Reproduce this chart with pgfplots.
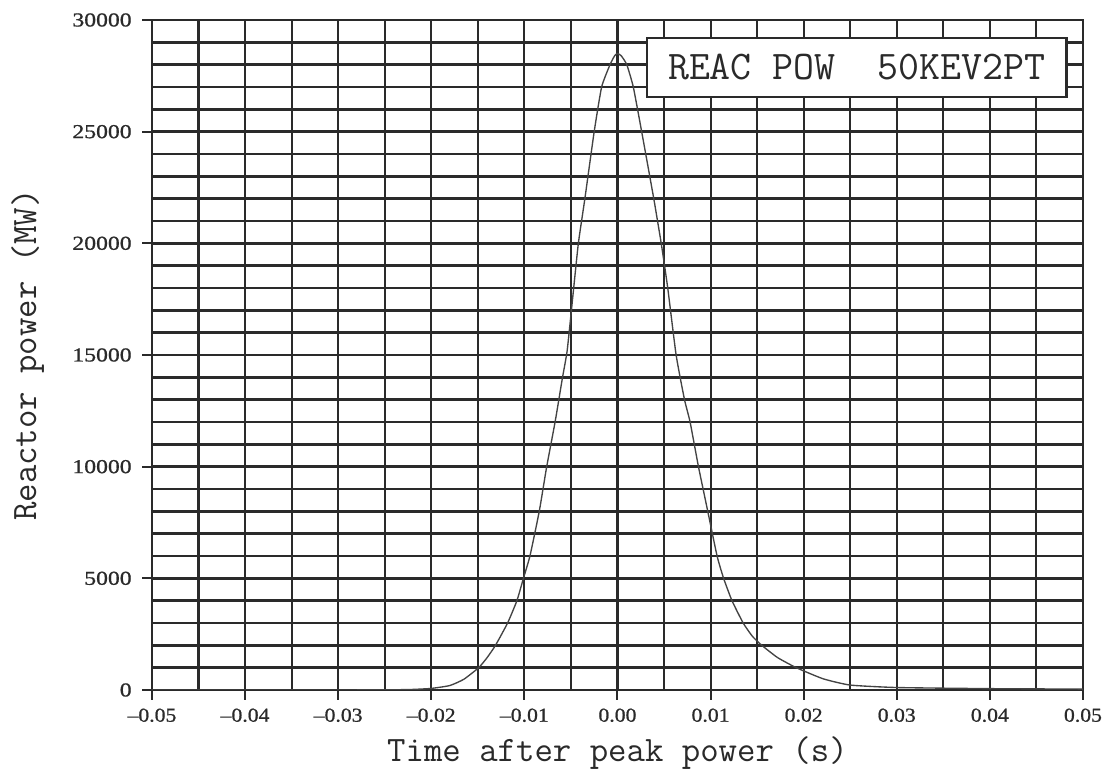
\documentclass[border=0pt]{standalone}
\usepackage{pgfplots}
\pgfplotsset{compat=1.18}
\usepackage{fontspec}
\setmainfont{Liberation Serif}
\definecolor{ink}{HTML}{2A2A2A}
\definecolor{pen}{HTML}{444444}
\newcommand{\typeface}{\ttfamily\addfontfeatures{FakeBold=1.2}}
\newcommand{\tickface}{\fontsize{8}{9}\selectfont\addfontfeatures{FakeBold=0.8}}

% Reactor power transient around the peak
\pgfplotstableread{
t        P
-0.0500  0
-0.0400  0
-0.0300  0
-0.0240  10
-0.0220  25
-0.0200  70
-0.0180  200
-0.0165  480
-0.0149  1000
-0.0140  1450
-0.0131  2000
-0.0118  3000
-0.0108  4000
-0.0101  5000
-0.0094  6000
-0.0084  8000
-0.0076  10000
-0.0067  12000
-0.0059  14000
-0.0054  15200
-0.0048  17600
-0.0042  20000
-0.0035  22000
-0.0025  25000
-0.0017  27000
-0.0008  28000
-0.0003  28400
 0.0000  28500
 0.0004  28400
 0.0010  28000
 0.0017  27000
 0.0026  25000
 0.0039  22000
 0.0047  20000
 0.0054  18000
 0.0063  15000
 0.0072  13000
 0.0078  12000
 0.0087  10000
 0.0097  8000
 0.0107  6000
 0.0114  5000
 0.0123  4000
 0.0135  3000
 0.0145  2400
 0.0155  2000
 0.0172  1450
 0.0192  1000
 0.0221  500
 0.0250  220
 0.0300  110
 0.0400  60
 0.0500  40
}\powertable

\begin{document}
\begin{tikzpicture}
\path[use as bounding box] (-61.6pt,-32.8pt) rectangle (392pt,279.7pt);
\begin{axis}[
  scale only axis,
  width=377.4pt, height=271.6pt,
  xmin=-0.05, xmax=0.05, ymin=0, ymax=30000,
  scaled x ticks=false, scaled y ticks=false,
  xtick={-0.05,-0.04,-0.03,-0.02,-0.01,0,0.01,0.02,0.03,0.04,0.05},
  xticklabels={--0.05,--0.04,--0.03,--0.02,--0.01,0.00,0.01,0.02,0.03,0.04,0.05},
  ytick={0,5000,10000,15000,20000,25000,30000},
  yticklabels={0,5000,10000,15000,20000,25000,30000},
  extra x ticks={-0.05,-0.045,-0.04,-0.035,-0.03,-0.025,-0.02,-0.015,-0.01,-0.005,0,
    0.005,0.01,0.015,0.02,0.025,0.03,0.035,0.04,0.045,0.05},
  extra x tick labels={},
  extra x tick style={grid=major, major tick length=0pt,
    major grid style={ink, line width=0.85pt}},
  extra y ticks={0,1000,2000,3000,4000,5000,6000,7000,8000,9000,10000,
    11000,12000,13000,14000,15000,16000,17000,18000,19000,20000,
    21000,22000,23000,24000,25000,26000,27000,28000,29000,30000},
  extra y tick labels={},
  extra y tick style={grid=major, major tick length=0pt,
    major grid style={ink, line width=1.15pt}},
  axis line style={ink, line width=0.9pt},
  tick pos=left,
  tick align=outside,
  major tick length=4pt,
  every tick/.style={ink, line width=0.8pt},
  xticklabel style={font=\tickface, text=ink, xscale=1.1},
  yticklabel style={font=\tickface, text=ink, xscale=1.2},
  xlabel={\typeface Time after peak power (s)},
  ylabel={\typeface Reactor power (MW)},
  label style={font=\fontsize{14.5}{16}\selectfont, text=ink},
  xlabel style={yshift=5pt},
  ylabel style={yshift=0pt},
]
\addplot[pen, line width=0.55pt, smooth, tension=0.3] table[x=t, y=P] {\powertable};
\node[draw=ink, line width=0.9pt, fill=white, minimum width=170pt, minimum height=24pt,
      font=\typeface\fontsize{16.5}{18}\selectfont, text=ink, inner sep=2pt]
  at (axis cs:0.0257,27876) {REAC POW\ \ 50KEV2PT};
\end{axis}
\end{tikzpicture}
\end{document}
